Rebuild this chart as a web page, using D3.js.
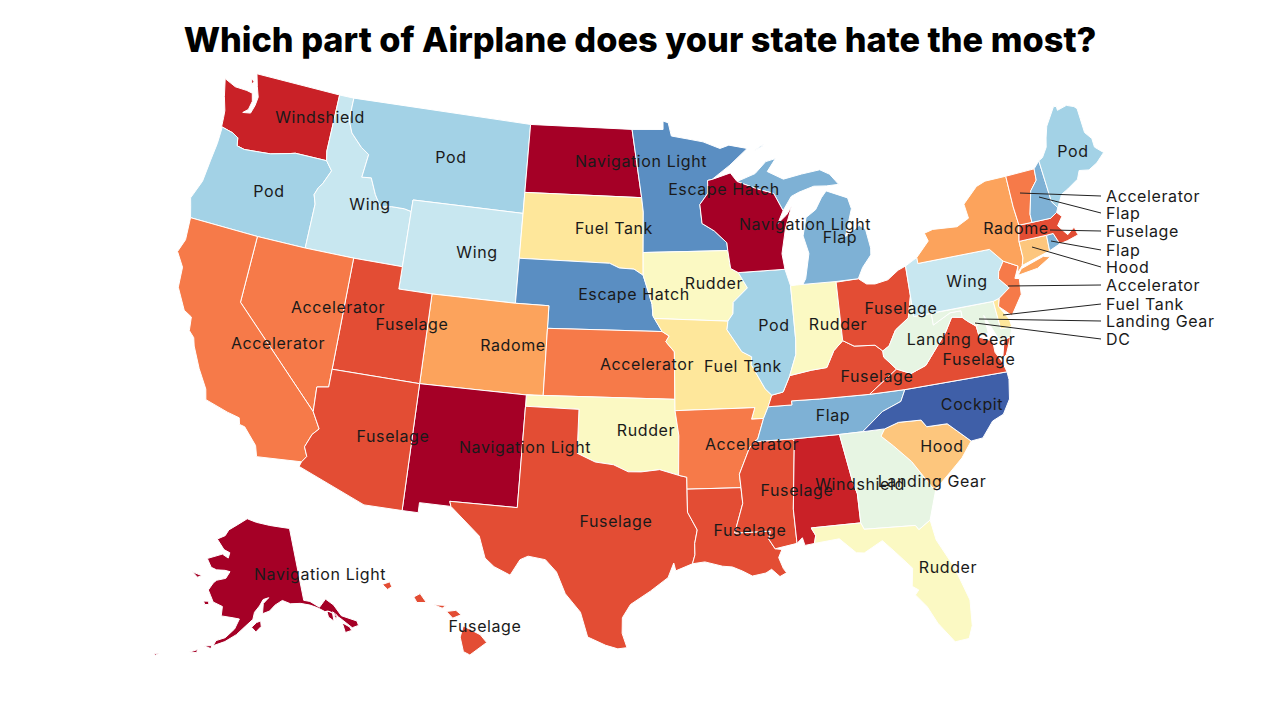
<!DOCTYPE html>
<html>
<head>
<meta charset="utf-8">
<script src="https://cdn.jsdelivr.net/npm/d3@7"></script>
<style>
  html, body { margin: 0; background: #fff; }
  text { font-family: Inter, "Open Sans", sans-serif; fill: #1a1a1a; }
</style>
</head>
<body>
<div id="chart"></div>
<script>
const partNames = ["Navigation Light", "Windshield", "Fuselage", "Accelerator", "Radome", "Hood", "Fuel Tank", "Rudder", "Landing Gear", "DC", "Wing", "Pod", "Flap", "Escape Hatch", "Cockpit"];
const partColors = ["#a50026", "#c92127", "#e34d34", "#f67a49", "#fca35c", "#fdc67d", "#fee79b", "#fbf9c3", "#e7f5e3", "#fbf9c3", "#c8e7f0", "#a3d2e6", "#7eb1d5", "#5a8ec2", "#3f5fa8"];

const statePart = {
  WA: "Windshield", OR: "Pod", CA: "Accelerator", NV: "Accelerator", ID: "Wing", MT: "Pod", WY: "Wing", UT: "Fuselage",
  AZ: "Fuselage", CO: "Radome", NM: "Navigation Light", ND: "Navigation Light", SD: "Fuel Tank", NE: "Escape Hatch",
  KS: "Accelerator", OK: "Rudder", TX: "Fuselage", MN: "Escape Hatch", IA: "Rudder", MO: "Fuel Tank", AR: "Accelerator",
  LA: "Fuselage", WI: "Navigation Light", IL: "Pod", MI: "Flap", IN: "Rudder", OH: "Fuselage", KY: "Fuselage", TN: "Flap",
  MS: "Fuselage", AL: "Windshield", GA: "Landing Gear", FL: "Rudder", SC: "Hood", NC: "Cockpit", VA: "Fuselage",
  WV: "Landing Gear", PA: "Wing", NY: "Radome", ME: "Pod", AK: "Navigation Light", HI: "Fuselage", VT: "Accelerator",
  NH: "Flap", MA: "Fuselage", RI: "Flap", CT: "Hood", NJ: "Accelerator", DE: "Fuel Tank", MD: "Landing Gear", DC: "DC"
};

// state outlines, lon/lat rings
const stateRings = {
  WA: [[[-124.7,48.38],[-123.9,48.16],[-123.1,48.15],[-122.7,48.1],[-122.55,47.75],[-122.65,47.35],[-122.95,47.15],[-122.45,47.22],[-122.3,47.6],[-122.25,48],[-122.5,48.45],[-122.76,49],[-117.03,49],[-117.04,46.42],[-116.92,45.995],[-118.98,46],[-119.3,45.93],[-120.5,45.7],[-121.2,45.65],[-122.2,45.58],[-122.7,45.65],[-122.8,46],[-123.2,46.15],[-124,46.27],[-124.05,46.7],[-124.1,47],[-124.4,47.6]],
       [[-123,48.7],[-122.8,48.65],[-122.9,48.45]]],
  OR: [[[-124,46.27],[-123.2,46.15],[-122.8,46],[-122.7,45.65],[-122.2,45.58],[-121.2,45.65],[-120.5,45.7],[-119.3,45.93],[-118.98,46],[-116.92,45.995],[-116.47,45.6],[-116.85,44.95],[-117.05,44.75],[-117.22,44.4],[-117.03,44],[-117.03,42],[-120,42],[-124.2,42],[-124.4,42.5],[-124.55,42.84],[-124.15,43.7],[-124.05,44.7],[-123.95,45.5],[-123.95,46.2]]],
  ID: [[[-117.03,49],[-116.05,49],[-116.05,48],[-115.7,47.45],[-114.9,46.9],[-114.35,46.65],[-114.5,45.6],[-113.9,45.65],[-113.45,44.95],[-113,44.45],[-112.3,44.55],[-111.5,44.55],[-111.05,44.48],[-111.05,42],[-114.04,42],[-117.03,42],[-117.03,44],[-117.22,44.4],[-117.05,44.75],[-116.85,44.95],[-116.47,45.6],[-116.92,45.995],[-117.04,46.42]]],
  MT: [[[-116.05,49],[-104.05,49],[-104.05,45.94],[-104.05,45],[-111.05,45],[-111.05,44.48],[-111.5,44.55],[-112.3,44.55],[-113,44.45],[-113.45,44.95],[-113.9,45.65],[-114.5,45.6],[-114.35,46.65],[-114.9,46.9],[-115.7,47.45],[-116.05,48]]],
  WY: [[[-111.05,45],[-104.05,45],[-104.05,43],[-104.05,41],[-109.05,41],[-111.05,41],[-111.05,42],[-111.05,44.48]]],
  ND: [[[-104.05,49],[-97.23,49],[-96.56,45.94],[-104.05,45.94]]],
  SD: [[[-104.05,45.94],[-96.56,45.94],[-96.45,45.3],[-96.45,43.5],[-96.44,42.49],[-97,42.76],[-97.9,42.8],[-98.5,43],[-104.05,43]]],
  NE: [[[-104.05,43],[-98.5,43],[-97.9,42.8],[-97,42.76],[-96.44,42.49],[-96.1,41.7],[-95.9,41.2],[-95.85,40.7],[-95.31,40],[-102.05,40],[-102.05,41],[-104.05,41]]],
  CO: [[[-109.05,41],[-104.05,41],[-102.05,41],[-102.05,40],[-102.05,37],[-103,37],[-109.05,37]]],
  KS: [[[-102.05,40],[-95.31,40],[-94.9,39.8],[-95.1,39.55],[-94.61,39.1],[-94.62,37],[-103,37],[-102.05,37]]],
  OK: [[[-103,37],[-94.62,37],[-94.62,36.5],[-94.43,35.4],[-94.48,33.64],[-95.5,33.9],[-96.5,33.8],[-97.2,33.8],[-98,34.1],[-99,34.2],[-100,34.56],[-100,36.5],[-103,36.5]]],
  NM: [[[-109.05,37],[-103,37],[-103,36.5],[-103.04,32],[-106.62,32],[-106.53,31.78],[-108.2,31.78],[-108.2,31.33],[-109.05,31.33]]],
  TX: [[[-103,36.5],[-100,36.5],[-100,34.56],[-99,34.2],[-98,34.1],[-97.2,33.8],[-96.5,33.8],[-95.5,33.9],[-94.48,33.64],[-94.04,33.55],[-94.04,33.02],[-94.04,32],[-93.55,31.2],[-93.7,30.6],[-93.7,30.1],[-93.84,29.7],[-94.7,29.4],[-94.8,29.75],[-95.1,29.1],[-96,28.5],[-97,27.9],[-97.4,27.3],[-97.4,26.6],[-97.15,25.96],[-97.6,25.9],[-98.2,26.05],[-99.1,26.4],[-99.5,27.5],[-100.3,28.3],[-100.8,29.25],[-101.4,29.77],[-102.3,29.88],[-102.7,29.7],[-103.15,28.98],[-104,29.3],[-104.5,29.65],[-104.9,30.6],[-106.53,31.78],[-106.62,32],[-103.04,32]]],
  UT: [[[-114.04,42],[-111.05,42],[-111.05,41],[-109.05,41],[-109.05,37],[-114.05,37]]],
  NV: [[[-120,42],[-117.03,42],[-114.04,42],[-114.05,37],[-114.05,36.2],[-114.7,36.1],[-114.63,35],[-120,39]]],
  CA: [[[-124.2,42],[-120,42],[-120,39],[-114.63,35],[-114.13,34.3],[-114.45,34],[-114.72,33.4],[-114.5,33],[-114.72,32.72],[-117.12,32.53],[-117.3,33],[-118.1,33.7],[-118.4,33.75],[-118.5,34.03],[-119.2,34.15],[-120.5,34.45],[-120.65,34.9],[-121.3,35.7],[-121.9,36.6],[-122.05,36.95],[-122.4,37.2],[-122.5,37.8],[-123,38],[-123.7,38.9],[-123.8,39.8],[-124.35,40.4],[-124.1,41]]],
  AZ: [[[-114.05,37],[-109.05,37],[-109.05,31.33],[-111.07,31.33],[-114.8,32.5],[-114.72,32.72],[-114.5,33],[-114.72,33.4],[-114.45,34],[-114.13,34.3],[-114.63,35],[-114.7,36.1],[-114.05,36.2]]],
  MN: [[[-97.23,49],[-95.15,49],[-95.15,49.38],[-94.8,49.3],[-94.6,48.7],[-93.5,48.55],[-92.5,48.4],[-91.4,48.07],[-90.8,48.2],[-89.6,48],[-90.8,47.3],[-92,46.7],[-92.3,46.66],[-92.3,46.1],[-92.85,45.6],[-92.75,44.75],[-92,44.4],[-91.25,43.85],[-91.22,43.5],[-96.45,43.5],[-96.45,45.3],[-96.56,45.94]]],
  IA: [[[-96.45,43.5],[-91.22,43.5],[-91.1,42.7],[-90.65,42.5],[-90.15,41.8],[-91.05,41.2],[-91.1,40.7],[-91.42,40.38],[-95.77,40.58],[-95.85,40.7],[-95.9,41.2],[-96.1,41.7],[-96.44,42.49]]],
  MO: [[[-95.77,40.58],[-91.42,40.38],[-91.5,40],[-90.7,39],[-90.15,38.75],[-90.2,38.4],[-89.5,37.3],[-89.15,37],[-89.4,36.5],[-89.7,36],[-90.37,36],[-90.15,36.5],[-94.62,36.5],[-94.62,37],[-94.61,39.1],[-95.1,39.55],[-94.9,39.8],[-95.31,40]]],
  AR: [[[-94.62,36.5],[-90.15,36.5],[-90.37,36],[-89.7,36],[-90.1,35.1],[-90.3,35],[-90.6,34.7],[-91.2,33.6],[-91.15,33],[-94.04,33.02],[-94.04,33.55],[-94.48,33.64],[-94.43,35.4]]],
  LA: [[[-94.04,33.02],[-91.15,33],[-91.1,32.3],[-91.6,31],[-89.73,31],[-89.85,30.65],[-89.55,30.2],[-89.2,30.15],[-89.4,29.8],[-89.2,29.3],[-89.05,29.1],[-89.4,28.95],[-89.8,29.3],[-90.1,29.15],[-90.8,29.05],[-91.3,29.3],[-91.8,29.5],[-92.3,29.55],[-93.2,29.77],[-93.84,29.7],[-93.7,30.1],[-93.7,30.6],[-93.55,31.2],[-94.04,32]]],
  MS: [[[-90.3,35],[-88.2,35],[-88.1,34.9],[-88.45,31.9],[-88.4,30.37],[-89.55,30.2],[-89.85,30.65],[-89.73,31],[-91.6,31],[-91.1,32.3],[-91.15,33],[-91.2,33.6],[-90.6,34.7]]],
  AL: [[[-88.2,35],[-85.6,35],[-85.18,32.87],[-85,32.3],[-85,31],[-87.6,31],[-87.4,30.65],[-87.5,30.3],[-88,30.25],[-88.1,30.6],[-88.4,30.37],[-88.45,31.9],[-88.1,34.9]]],
  TN: [[[-90.3,35],[-88.2,35],[-85.6,35],[-84.32,35],[-83.1,35.77],[-82,36.1],[-81.68,36.59],[-83.68,36.6],[-86.5,36.65],[-88.07,36.68],[-88.07,36.5],[-89.4,36.5],[-89.7,36],[-90.1,35.1]]],
  KY: [[[-89.4,36.5],[-88.07,36.5],[-88.07,36.68],[-86.5,36.65],[-83.68,36.6],[-81.97,37.54],[-82.6,38.15],[-82.6,38.42],[-83,38.72],[-84.2,38.8],[-84.82,39.1],[-85.4,38.7],[-85.9,38],[-86.8,37.95],[-88.05,37.8],[-88.5,37.1],[-89.15,37]]],
  IL: [[[-91.42,40.38],[-91.1,40.7],[-91.05,41.2],[-90.15,41.8],[-90.65,42.5],[-87.8,42.5],[-87.55,41.75],[-87.53,39.35],[-87.6,38.7],[-88.05,37.8],[-88.5,37.1],[-89.15,37],[-89.5,37.3],[-90.2,38.4],[-90.15,38.75],[-90.7,39],[-91.5,40]]],
  IN: [[[-87.55,41.75],[-87.2,41.76],[-84.8,41.76],[-84.82,39.1],[-85.4,38.7],[-85.9,38],[-86.8,37.95],[-88.05,37.8],[-87.6,38.7],[-87.53,39.35]]],
  OH: [[[-84.8,41.7],[-83.45,41.73],[-83,41.45],[-82.5,41.4],[-81.7,41.5],[-81,41.85],[-80.52,41.98],[-80.52,40.64],[-80.85,39.7],[-81.7,39.25],[-82.2,38.6],[-82.6,38.42],[-83,38.72],[-84.2,38.8],[-84.82,39.1]]],
  MI: [[[-90.4,46.55],[-89.2,46.85],[-88.45,47.35],[-87.8,47.45],[-88.4,46.9],[-87.4,46.5],[-86.2,46.65],[-85,46.75],[-84.4,46.5],[-84.1,46.2],[-83.9,46],[-84.7,46],[-85.5,46.05],[-86.5,45.85],[-87,45.7],[-87.6,45.1],[-88.1,45.9],[-89.1,46.15]],
       [[-86.8,41.76],[-84.8,41.73],[-83.45,41.73],[-83.1,42.2],[-82.5,42.7],[-82.45,43],[-82.6,43.85],[-82.95,44.07],[-83.9,43.65],[-83.3,44.85],[-83.45,45.35],[-84.75,45.78],[-85.1,45.5],[-85.55,45],[-86.2,44.7],[-86.5,43.9],[-86.25,43.1],[-86.6,42]],
       [[-89.2,47.85],[-88.5,48.15],[-88.6,48.05]]],
  WI: [[[-92.3,46.66],[-92,46.7],[-90.8,46.95],[-90.4,46.55],[-89.1,46.15],[-88.1,45.9],[-87.6,45.1],[-88,44.55],[-87.4,44.9],[-87.05,45.25],[-87.55,44.3],[-87.9,43.2],[-87.8,42.5],[-90.65,42.5],[-91.1,42.7],[-91.22,43.5],[-91.25,43.85],[-92,44.4],[-92.75,44.75],[-92.85,45.6],[-92.3,46.1]]],
  GA: [[[-85.6,35],[-84.32,35],[-83.1,35],[-83.35,34.7],[-82.75,34.2],[-81.9,33.4],[-81,32.1],[-80.85,32.03],[-81.4,30.71],[-82.05,30.36],[-82.2,30.57],[-84.86,30.7],[-85,31],[-85,32.3],[-85.18,32.87]]],
  FL: [[[-87.6,31],[-85,31],[-84.86,30.7],[-82.2,30.57],[-82.05,30.36],[-81.4,30.71],[-81.25,29.8],[-80.55,28.45],[-80.05,26.9],[-80.15,25.75],[-80.4,25.2],[-81.1,25.15],[-81.8,26.1],[-82.2,26.9],[-82.7,27.5],[-82.5,27.7],[-82.8,27.9],[-82.65,28.7],[-83.4,29.5],[-84,30.1],[-85,29.65],[-85.4,29.7],[-86.2,30.4],[-87.5,30.3],[-87.4,30.65]]],
  SC: [[[-83.35,34.7],[-83.1,35],[-82.3,35.2],[-81.05,35.15],[-80.8,34.82],[-79.67,34.8],[-78.55,33.86],[-79.2,33.2],[-79.9,32.7],[-80.85,32.03],[-81,32.1],[-81.9,33.4],[-82.75,34.2]]],
  NC: [[[-81.68,36.59],[-75.87,36.55],[-75.85,36.2],[-76.05,35.35],[-76.55,34.75],[-77.2,34.55],[-77.9,33.9],[-78.55,33.86],[-79.67,34.8],[-80.8,34.82],[-81.05,35.15],[-82.3,35.2],[-83.1,35],[-84.32,35],[-83.1,35.77],[-82,36.1]]],
  VA: [[[-83.68,36.6],[-81.68,36.59],[-75.87,36.55],[-76,37],[-76.3,37.5],[-76.3,38],[-77,38.3],[-77.05,38.8],[-77.5,39.1],[-77.75,39.3],[-78.35,39.4],[-78.85,38.8],[-79.3,38.4],[-80.3,37.5],[-81.2,37.25],[-81.97,37.54]],
       [[-75.95,37.15],[-75.65,37.95],[-75.25,38.03],[-75.7,37.3]]],
  WV: [[[-81.97,37.54],[-81.2,37.25],[-80.3,37.5],[-79.3,38.4],[-78.85,38.8],[-78.35,39.4],[-77.75,39.3],[-77.75,39.6],[-78.4,39.6],[-79.48,39.2],[-79.48,39.72],[-80.52,39.72],[-80.52,40.64],[-80.85,39.7],[-81.7,39.25],[-82.2,38.6],[-82.6,38.42],[-82.6,38.15]]],
  MD: [[[-79.48,39.72],[-75.79,39.72],[-75.7,38.46],[-75.05,38.45],[-75.25,38.03],[-75.9,37.95],[-76.2,38.6],[-76.5,39.2],[-76.45,38.4],[-77,38.3],[-77.05,38.8],[-77.5,39.1],[-77.75,39.3],[-77.75,39.6],[-78.4,39.6],[-79.48,39.2]]],
  DE: [[[-75.79,39.72],[-75.4,39.8],[-75.55,39.45],[-75.1,38.8],[-75.05,38.45],[-75.7,38.46]]],
  DC: [[[-77.12,38.93],[-77.04,39],[-76.91,38.89],[-77.04,38.79]]],
  PA: [[[-80.52,41.98],[-79.76,42.27],[-79.76,42],[-75.35,42],[-74.7,41.36],[-75.1,40.95],[-75.2,40.65],[-74.7,40.15],[-75.4,39.8],[-75.79,39.72],[-80.52,39.72]]],
  NJ: [[[-74.7,41.36],[-73.9,41],[-74.25,40.5],[-74,40.45],[-74.1,39.75],[-74.9,38.93],[-75.55,39.45],[-75.4,39.8],[-74.7,40.15],[-75.2,40.65],[-75.1,40.95]]],
  NY: [[[-79.76,42.27],[-79.76,42],[-75.35,42],[-74.7,41.36],[-73.9,41],[-74.03,40.7],[-73.65,40.98],[-73.5,41.3],[-73.5,42.05],[-73.27,42.75],[-73.35,43.6],[-73.35,45],[-74.7,45],[-75.3,44.85],[-76.3,44.2],[-76.2,43.55],[-77,43.28],[-78.5,43.37],[-79.05,43.27],[-78.9,42.9]],
       [[-74.03,40.6],[-73.75,40.85],[-72.3,41.15],[-71.9,41.05],[-72.8,40.7]]],
  CT: [[[-73.5,42.05],[-71.8,42.02],[-71.85,41.32],[-73.65,40.98],[-73.5,41.3]]],
  RI: [[[-71.8,42.02],[-71.38,42.02],[-71.15,41.5],[-71.85,41.32]]],
  MA: [[[-73.5,42.05],[-73.27,42.75],[-72.46,42.73],[-71.3,42.7],[-70.85,42.88],[-70.6,42.65],[-71,42.3],[-70.55,41.8],[-70.05,42.05],[-70,41.8],[-69.95,41.67],[-70.65,41.55],[-71.15,41.5],[-71.38,42.02],[-71.8,42.02]]],
  VT: [[[-73.35,45],[-71.5,45.01],[-71.55,44.5],[-72.05,44.1],[-72.45,43.1],[-72.46,42.73],[-73.27,42.75],[-73.35,43.6]]],
  NH: [[[-71.5,45.01],[-71.08,45.3],[-70.98,43.4],[-70.7,43.07],[-70.85,42.88],[-71.3,42.7],[-72.46,42.73],[-72.45,43.1],[-72.05,44.1],[-71.55,44.5]]],
  ME: [[[-71.08,45.3],[-70.8,45.4],[-70.4,45.8],[-70.25,46.2],[-70,46.7],[-69.23,47.46],[-69.05,47.43],[-69.05,47.25],[-68.4,47.35],[-67.95,47.2],[-67.79,47.07],[-67.78,45.95],[-67.45,45.6],[-67.45,45.2],[-67,44.85],[-67.6,44.5],[-68.2,44.3],[-68.8,44.4],[-69.05,44.05],[-69.8,43.75],[-70.25,43.6],[-70.7,43.07],[-70.98,43.4]]],
  AK: [[[-141,69.65],[-141,60.3],[-139.5,60],[-137.5,59],[-135.5,59.8],[-134,58.8],[-133,57.2],[-130,55.9],[-130,55.3],[-131.5,55.3],[-133.5,57],[-135.5,58.2],[-136.5,58.3],[-138,59],[-139.7,59.55],[-142,60],[-144.5,60.15],[-146.5,60.7],[-148.5,60.2],[-150,59.5],[-151.8,59.2],[-151.5,60.5],[-150,61.2],[-151.5,61],[-152.5,60.2],[-153.8,59.4],[-154.2,58.5],[-156,57.6],[-158,56.5],[-160.5,55.5],[-163,54.8],[-162.5,55.5],[-160.5,56],[-158.5,57.2],[-157.5,58.5],[-159,58.6],[-162,58.7],[-162,59.9],[-164.5,60.3],[-165.5,61.1],[-166.3,61.7],[-165.3,62.7],[-164.5,63.1],[-162,63.5],[-161,64.4],[-162.5,64.5],[-165,64.4],[-166.7,64.6],[-168.4,65.6],[-164,66.5],[-162,66.1],[-161.7,66.8],[-163.7,67.1],[-166.5,68.3],[-164,68.9],[-163,69.7],[-160,70.5],[-156.5,71.35],[-153,70.9],[-148,70.4],[-144,70]],
       [[-154.5,57.5],[-153.5,56.9],[-152.2,57.6],[-152.3,58.3],[-153.3,58.1]],
       [[-167,60.2],[-165.7,60.3],[-165.5,59.9],[-166.5,59.8]],
       [[-171.7,63.5],[-168.8,63.3],[-170,63]],
       [[-133.3,56.3],[-132,55.5],[-131.8,55],[-133.3,55]],
       [[-136,58.3],[-134.8,57.9],[-135,56.8],[-136,57.5]],
       [[-134.7,58],[-133.9,57.4],[-134.4,56.9]],
       [[-164.9,54.6],[-163.3,54.8],[-163.4,54.4]],
       [[-167.8,53.5],[-166.2,54],[-166.3,53.6]],
       [[-174.9,52.1],[-174,52.4],[-174.5,52]]],
  HI: [[[-155.9,20.25],[-155.1,19.85],[-154.8,19.5],[-155.6,18.95],[-155.9,19.1],[-156.05,19.75]],
       [[-156.7,20.9],[-156.25,20.95],[-156,20.75],[-156.4,20.6]],
       [[-157.3,21.2],[-156.7,21.17],[-156.9,21.05]],
       [[-158.25,21.55],[-157.95,21.7],[-157.65,21.3],[-158.1,21.3]],
       [[-159.75,22.1],[-159.4,22.22],[-159.3,22],[-159.5,21.88]]]
};

// labels that sit on the state
const stateLabels = [
  ["WA",320,117],["OR",269,191],["CA",278,343],["NV",338,307],["ID",370,204],["MT",451,157],["WY",477,252],["UT",412,324],
  ["AZ",393,436],["CO",513,345],["NM",525,447],["ND",641,161],["SD",614,228],["NE",634,294],["KS",647,364],["OK",646,430],
  ["TX",616,521],["MN",724,189],["IA",714,283],["MO",743,366],["AR",752,444],["LA",750,530],["WI",805,224],["IL",774,325],
  ["MI",840,237],["IN",838,324],["OH",901,308],["KY",877,376],["TN",833,415],["MS",797,490],["AL",860,484],["GA",932,481],
  ["FL",948,567],["SC",942,446],["NC",972,404],["VA",979,359],["WV",961,339],["PA",967,281],["NY",1016,228],["ME",1073,151],
  ["AK",320,574],["HI",485,626]
];
// small states: label y, leader end x/y
const calloutStates = ["VT","NH","MA","RI","CT","NJ","DE","MD","DC"];
const calloutY = [196,213,231,250,267,285,304,321,339];
const leaderEnd = [[1020,193],[1039,197],[1050,230],[1051,241],[1032,247],[1008,286],[1003,315],[979,319],[975,323]];

const width = 1280, height = 720;
const color = d3.scaleOrdinal().domain(partNames).range(partColors);

const svg = d3.select("#chart").append("svg").attr("width", width).attr("height", height);

svg.append("text")
  .attr("x", 640).attr("y", 52)
  .attr("text-anchor", "middle")
  .style("font-size", "34.3px").style("font-weight", 800)
  .style("fill", "#000")
  .text("Which part of Airplane does your state hate the most?");

const projection = d3.geoAlbersUsa().scale(1285).translate([640, 361]);
const path = d3.geoPath(projection);

// d3 wants rings wound the right way round; flip any that cover the globe
function polygonOf(ring) {
  const closed = ring.concat([ring[0]]);
  const poly = { type: "Polygon", coordinates: [closed] };
  if (d3.geoArea(poly) > 2 * Math.PI) poly.coordinates = [closed.slice().reverse()];
  return poly;
}

const features = Object.keys(stateRings).map((code) => ({
  type: "Feature",
  id: code,
  geometry: {
    type: "MultiPolygon",
    coordinates: stateRings[code].map((r) => polygonOf(r).coordinates)
  }
}));

svg.append("g").selectAll("path")
  .data(features)
  .enter().append("path")
  .attr("d", path)
  .attr("fill", (d) => color(statePart[d.id]))
  .attr("stroke", "#fff")
  .attr("stroke-width", 1);

svg.append("g").selectAll("line")
  .data(calloutStates)
  .enter().append("line")
  .attr("x1", (d, i) => leaderEnd[i][0]).attr("y1", (d, i) => leaderEnd[i][1])
  .attr("x2", 1101).attr("y2", (d, i) => calloutY[i])
  .attr("stroke", "#222").attr("stroke-width", 1);

svg.append("g").selectAll("text")
  .data(stateLabels)
  .enter().append("text")
  .attr("x", (d) => d[1]).attr("y", (d) => d[2])
  .attr("text-anchor", "middle").attr("dy", "0.35em")
  .style("font-size", "16px").style("letter-spacing", "0.6px")
  .text((d) => statePart[d[0]]);

svg.append("g").selectAll("text")
  .data(calloutStates)
  .enter().append("text")
  .attr("x", 1106).attr("y", (d, i) => calloutY[i])
  .attr("dy", "0.35em")
  .style("font-size", "16px").style("letter-spacing", "0.6px")
  .text((d) => statePart[d]);
</script>
</body>
</html>
